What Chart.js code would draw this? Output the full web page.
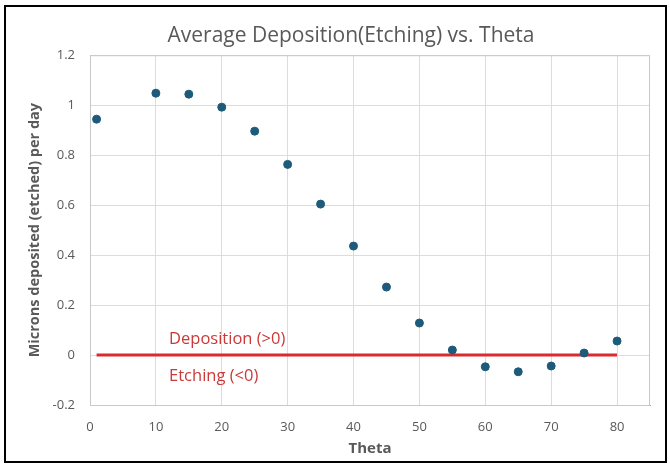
<!DOCTYPE html>
<html>
<head>
<meta charset="utf-8">
<script src="https://cdn.jsdelivr.net/npm/chart.js@4.4.1/dist/chart.umd.min.js"></script>
<style>
  html, body { margin: 0; padding: 0; background: #fff; }
  #wrap { position: relative; width: 670px; height: 466px; }
  #frame { position: absolute; left: 4px; top: 5px; width: 659px; height: 454px; border: 2px solid #000; pointer-events: none; }
</style>
</head>
<body>
<div id="wrap">
  <canvas id="depositionChart"></canvas>
  <div id="frame"></div>
</div>
<script>
const thetaValues = [1, 10, 15, 20, 25, 30, 35, 40, 45, 50, 55, 60, 65, 70, 75, 80];
const depositionValues = [0.944, 1.048, 1.044, 0.992, 0.896, 0.763, 0.604, 0.436, 0.272, 0.128, 0.02, -0.047, -0.067, -0.044, 0.008, 0.056];

const zeroLineTheta = [1, 80];
const zeroLineValues = [0, 0];

const xTickValues = [0, 10, 20, 30, 40, 50, 60, 70, 80];
const yTickValues = [-0.2, 0, 0.2, 0.4, 0.6, 0.8, 1, 1.2];

const regionLabels = ['Deposition (>0)', 'Etching (<0)'];
const regionLabelTheta = [12, 12];
const regionLabelValues = [0.064, -0.084];

const textGrey = '#595959';
const fontFamily = "'Open Sans', 'Liberation Sans', sans-serif";

/* ===== plot frame + region labels ===== */
const plotFrame = {
    id: 'plotFrame',
    beforeDatasetsDraw(chart) {
        const a = chart.chartArea;
        const c = chart.ctx;
        c.save();
        c.strokeStyle = '#C8C8C8';
        c.lineWidth = 1;
        c.strokeRect(a.left + 0.5, a.top + 0.5, a.right - a.left - 1, a.bottom - a.top);
        c.restore();
    }
};

const regionText = {
    id: 'regionText',
    afterDatasetsDraw(chart) {
        const c = chart.ctx;
        const x = chart.scales.x;
        const y = chart.scales.y;
        c.save();
        c.fillStyle = '#CC3838';
        c.font = '16.5px ' + fontFamily;
        c.textAlign = 'left';
        c.textBaseline = 'middle';
        regionLabels.forEach((t, i) => {
            c.fillText(t, x.getPixelForValue(regionLabelTheta[i]), y.getPixelForValue(regionLabelValues[i]));
        });
        c.restore();
    }
};

const points = thetaValues.map((t, i) => ({ x: t, y: depositionValues[i] }));
const zeroLine = zeroLineTheta.map((t, i) => ({ x: t, y: zeroLineValues[i] }));

new Chart(document.getElementById('depositionChart'), {
    type: 'scatter',
    data: {
        datasets: [{
            data: points,
            backgroundColor: '#1E5B7B',
            borderColor: '#1E5B7B',
            pointRadius: 4,
            pointHoverRadius: 4
        }, {
            type: 'line',
            data: zeroLine,
            borderColor: '#DA2A2F',
            borderWidth: 3,
            pointRadius: 0,
            fill: false
        }]
    },
    options: {
        responsive: true,
        maintainAspectRatio: false,
        animation: false,
        // left padding is wide so the chart title centres like the original
        layout: { padding: { left: 52, right: 20, top: 0, bottom: 6 } },
        plugins: {
            legend: { display: false },
            tooltip: { enabled: false },
            title: {
                display: true,
                text: 'Average Deposition(Etching) vs. Theta',
                color: textGrey,
                font: { family: fontFamily, size: 21, weight: 'normal' },
                padding: { top: 23, bottom: 7 }
            }
        },
        scales: {
            x: {
                type: 'linear',
                min: 0,
                max: 85,
                afterBuildTicks: axis => { axis.ticks = xTickValues.map(v => ({ value: v })); },
                afterFit: axis => { axis.height = 55; },
                ticks: { color: textGrey, font: { family: fontFamily, size: 13 }, padding: 14, maxRotation: 0 },
                grid: { color: '#DCDCDC', drawTicks: false },
                border: { color: '#A0A0A0' },
                title: {
                    display: true,
                    text: 'Theta',
                    color: textGrey,
                    font: { family: fontFamily, size: 15, weight: 'bold' },
                    padding: { top: 0, bottom: 2 }
                }
            },
            y: {
                min: -0.2,
                max: 1.2,
                afterBuildTicks: axis => { axis.ticks = yTickValues.map(v => ({ value: v })); },
                afterFit: axis => { axis.width = 38; },
                ticks: {
                    color: textGrey,
                    font: { family: fontFamily, size: 13 },
                    padding: 15,
                    callback: v => String(Number(v.toFixed(1)))
                },
                grid: { color: '#DCDCDC', drawTicks: false },
                border: { color: '#C8C8C8' },
                title: {
                    display: true,
                    text: 'Microns deposited (etched) per day',
                    color: textGrey,
                    font: { family: fontFamily, size: 14.5, weight: 'bold' },
                    padding: { top: -26, bottom: 0 }
                }
            }
        }
    },
    plugins: [plotFrame, regionText]
});
</script>
</body>
</html>
